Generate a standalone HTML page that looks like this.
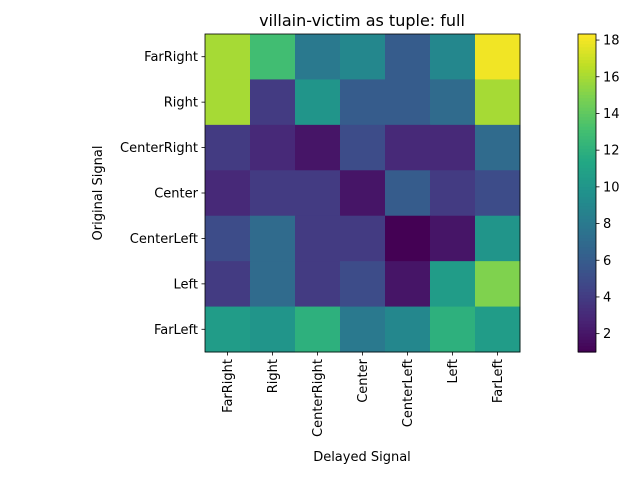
<!DOCTYPE html>
<html><head><meta charset="utf-8"><style>
body{margin:0;background:#fff;}
svg text{font-family:"DejaVu Sans","Liberation Sans",sans-serif;fill:#000;}
</style></head><body>
<svg id="c" width="640" height="480"></svg>
<script>
const rowLabels=["FarRight","Right","CenterRight","Center","CenterLeft","Left","FarLeft"];
const colLabels=["FarRight","Right","CenterRight","Center","CenterLeft","Left","FarLeft"];
const row0=[16,13,8,9,6,9,18];
const row1=[16,4,10,6,6,7,16];
const row2=[4,3,2,5,3,3,7];
const row3=[3,4,4,2,6,4,5];
const row4=[5,7,4,4,1,2,10];
const row5=[4,7,4,5,2,10.5,15];
const row6=[10.5,10,12,8,9,12,10.5];
const values=[row0,row1,row2,row3,row4,row5,row6];
const cbTicks=[2,4,6,8,10,12,14,16,18];
const vmin=1,vmax=18.33;

const NS="http://www.w3.org/2000/svg";
const svg=document.getElementById('c');
function mk(t,a,p){const e=document.createElementNS(NS,t);for(const k in a)e.setAttribute(k,a[k]);(p||svg).appendChild(e);return e;}
const V=[[68,1,84],[72,36,117],[65,68,135],[53,95,141],[42,120,142],[33,145,140],[34,168,132],[68,191,112],[122,209,81],[189,223,38],[253,231,37]];
function viridis(t){t=Math.max(0,Math.min(1,t));const f=t*10,i=Math.min(9,Math.floor(f)),r=f-i;
const c=V[i].map((v,k)=>Math.round(v+(V[i+1][k]-v)*r));return `rgb(${c[0]},${c[1]},${c[2]})`;}
const L=205,R=520,T=34,B=352;
const cw=(R-L)/colLabels.length, rh=(B-T)/rowLabels.length;
const xPos=j=>L+j*cw, yPos=i=>T+i*rh;
const norm=v=>(v-vmin)/(vmax-vmin);
const FS=13;

const title=mk('text',{x:362,y:26,'text-anchor':'middle','font-size':16});


title.textContent='villain-victim as tuple: full';

values.forEach((row,i)=>row.forEach((v,j)=>{
  const r=mk('rect',{x:xPos(j),y:yPos(i),width:cw+0.5,height:rh+0.5,fill:viridis(norm(v))});
  
  
}));
mk('rect',{x:L,y:T,width:R-L,height:B-T,fill:'none',stroke:'#000','stroke-width':0.8});

rowLabels.forEach((lab,i)=>{
  const y=yPos(i)+rh/2;
  mk('line',{x1:L-3.5,x2:L,y1:y,y2:y,stroke:'#000','stroke-width':0.8});
  const t=mk('text',{x:L-7,y:y+4.5,'text-anchor':'end','font-size':FS});
  
  
  t.textContent=lab;
});
colLabels.forEach((lab,j)=>{
  const x=xPos(j)+cw/2;
  mk('line',{x1:x,x2:x,y1:B,y2:B+3.5,stroke:'#000','stroke-width':0.8});
  const t=mk('text',{x:x+4.5,y:B+7,'text-anchor':'end','font-size':FS,transform:`rotate(-90 ${x+4.5} ${B+7})`});
  
  
  t.textContent=lab;
});
const xt=mk('text',{x:362,y:461,'text-anchor':'middle','font-size':FS});


xt.textContent='Delayed Signal';
const yt=mk('text',{x:102,y:193,'text-anchor':'middle','font-size':FS,transform:'rotate(-90 102 193)'});


yt.textContent='Original Signal';

const CL=578,CR=596;
const cbPos=v=>B-norm(v)*(B-T);
const cb=mk('g',{});


const N=100;
for(let k=0;k<N;k++){
  const y0=B-(k+1)*(B-T)/N;
  mk('rect',{x:CL,y:y0,width:CR-CL,height:(B-T)/N+0.6,fill:viridis((k+0.5)/N)},cb);
}
mk('rect',{x:CL,y:T,width:CR-CL,height:B-T,fill:'none',stroke:'#000','stroke-width':0.8},cb);
cbTicks.forEach(v=>{
  const y=cbPos(v);
  mk('line',{x1:CR,x2:CR+3.5,y1:y,y2:y,stroke:'#000','stroke-width':0.8},cb);
  const t=mk('text',{x:CR+7,y:y+4.5,'font-size':FS},cb);
  
  
  t.textContent=v;
});
</script>
</body></html>
